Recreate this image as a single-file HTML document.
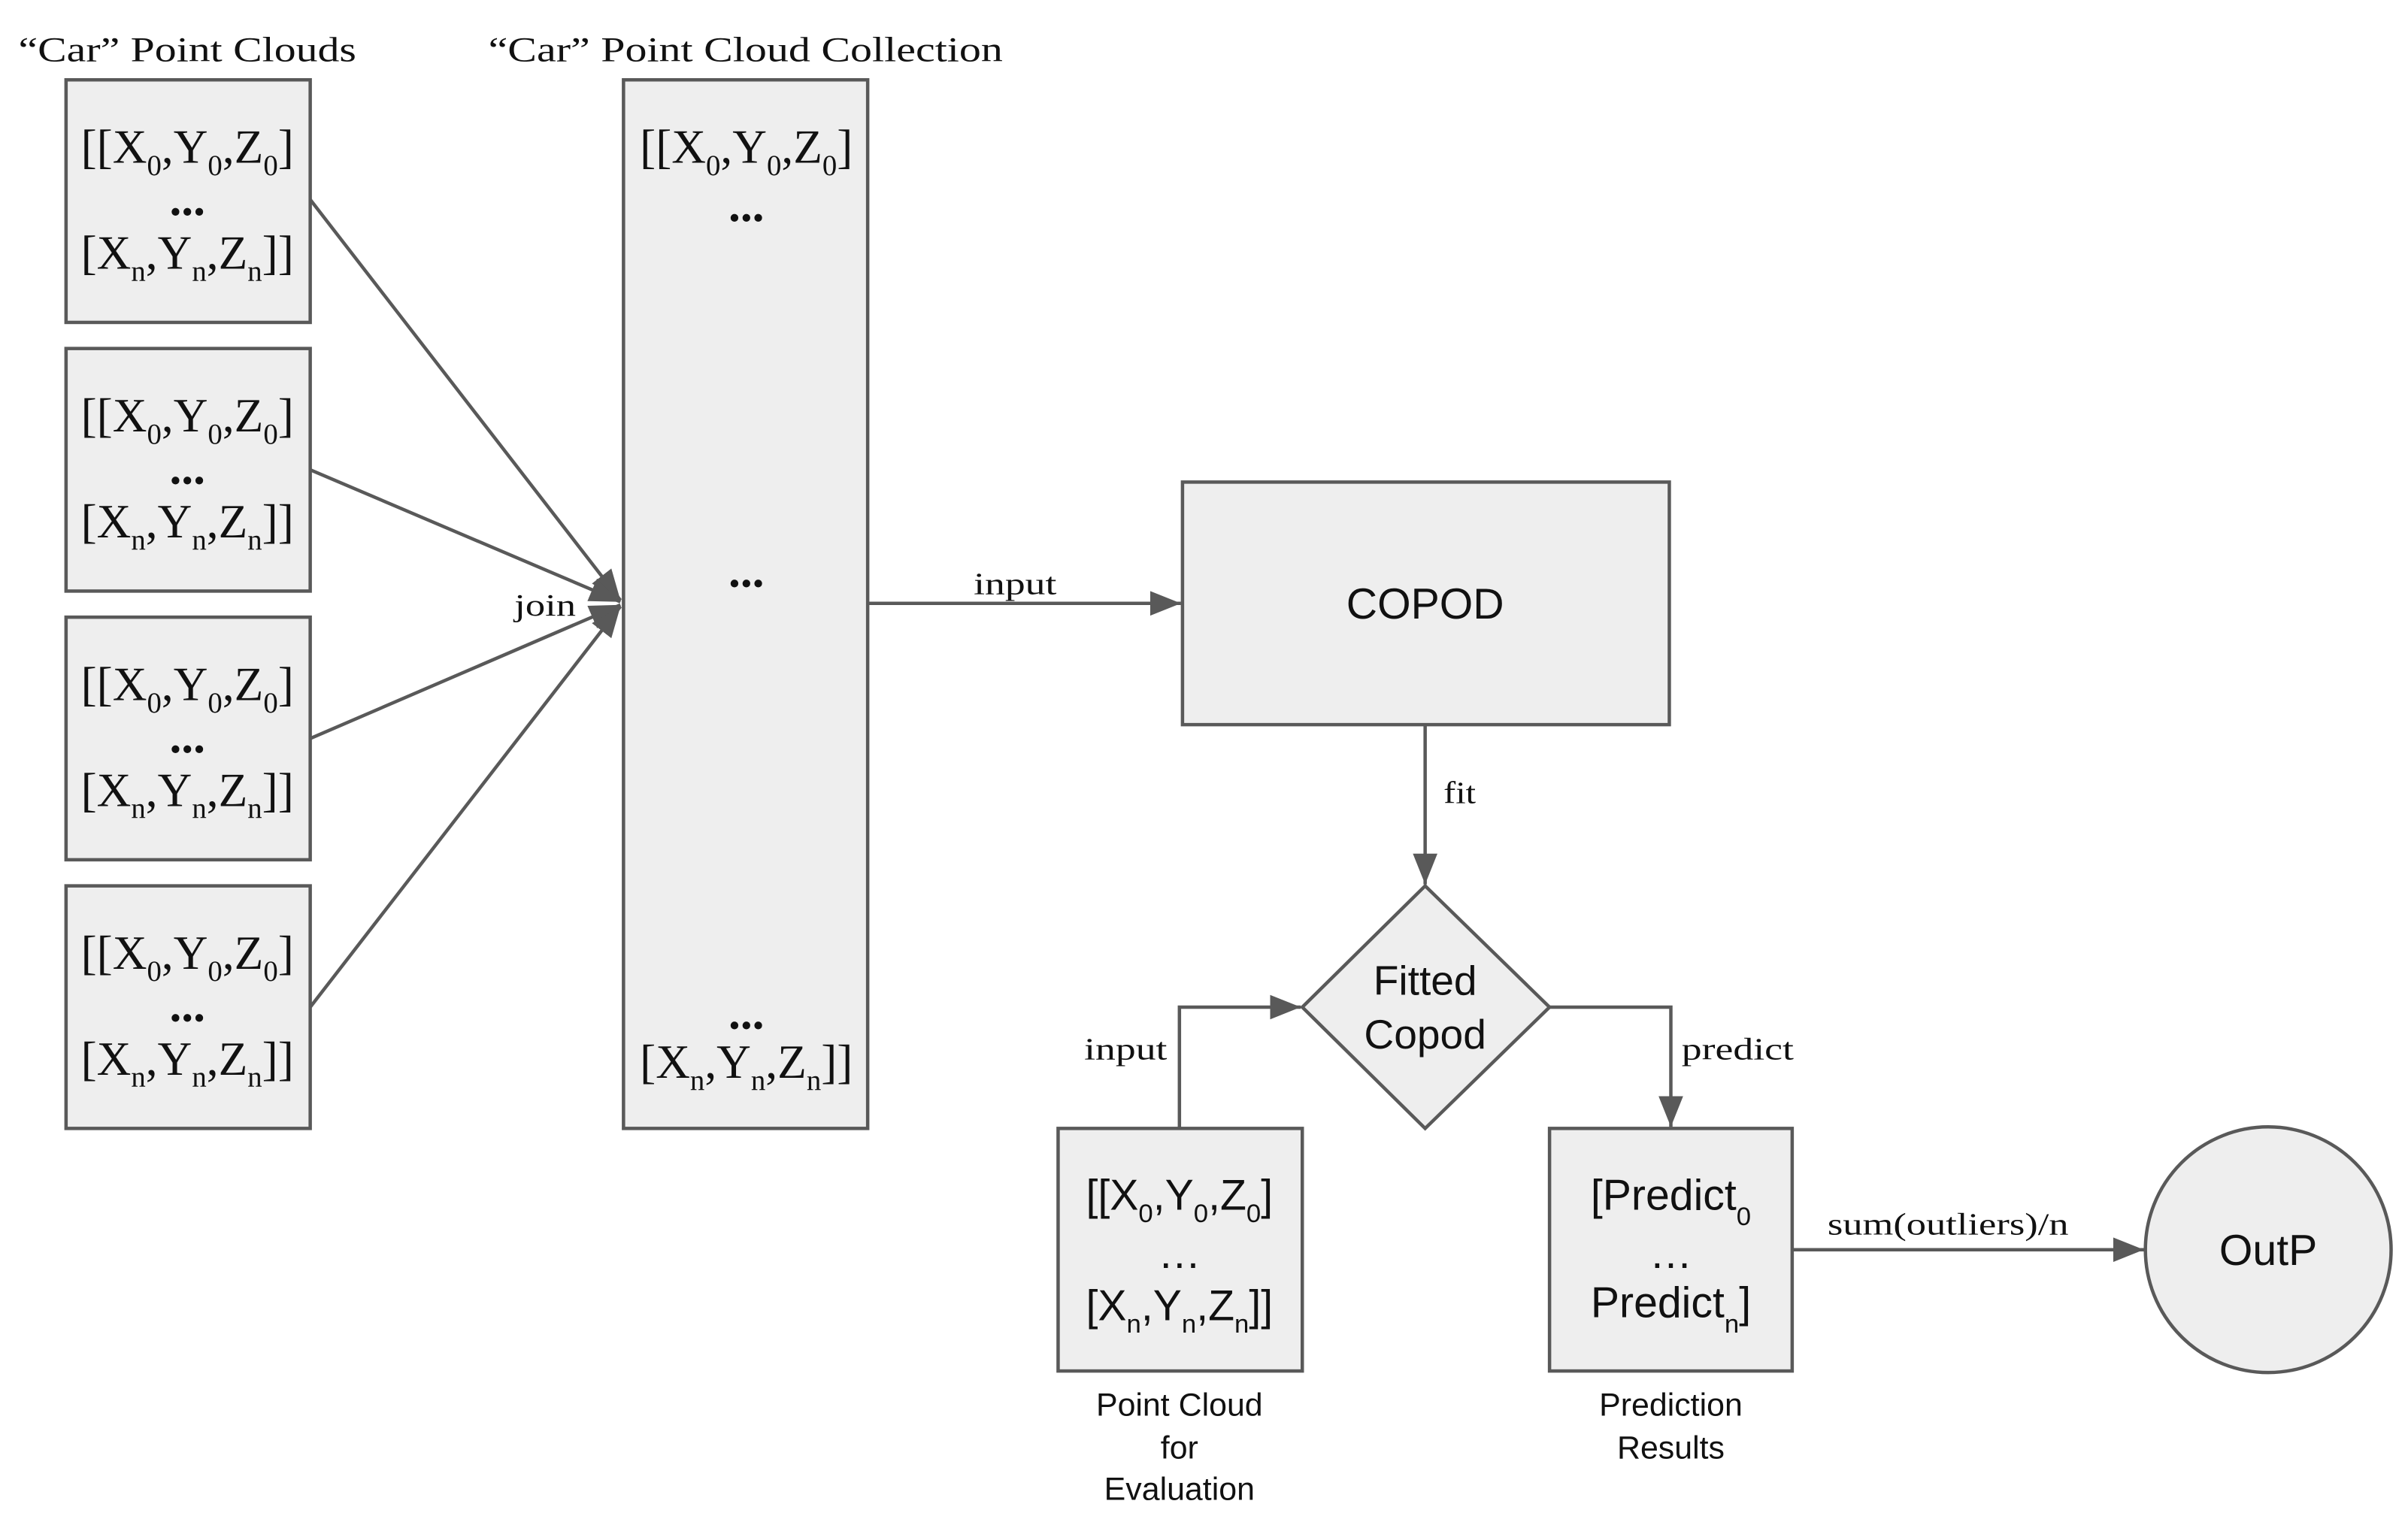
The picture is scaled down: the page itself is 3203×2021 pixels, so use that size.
<!DOCTYPE html>
<html><head><meta charset="utf-8"><style>html,body{margin:0;padding:0;background:#fff}svg{display:block}</style></head><body>
<svg width="3203" height="2021" viewBox="0 0 1568 989.4" preserveAspectRatio="none" xmlns="http://www.w3.org/2000/svg">
<defs>
<marker id="b" markerWidth="20" markerHeight="16" refX="20" refY="8" orient="auto" markerUnits="userSpaceOnUse"><path d="M0,0 L20,8 L0,16 z" fill="#595959"/></marker>
</defs>
<g font-family="Liberation Serif, serif" fill="#111">
<text x="12" y="40" font-size="23" textLength="220" lengthAdjust="spacingAndGlyphs">“Car” Point Clouds</text>
<text x="318" y="40" font-size="23" textLength="335" lengthAdjust="spacingAndGlyphs">“Car” Point Cloud Collection</text>
</g>
<g fill="#eeeeee" stroke="#595959" stroke-width="2.2">
<rect x="43" y="52" width="159" height="158"/>
<rect x="43" y="227" width="159" height="158"/>
<rect x="43" y="402" width="159" height="158"/>
<rect x="43" y="577" width="159" height="158"/>
<rect x="406" y="52" width="159" height="683"/>
<rect x="770" y="314" width="317" height="158"/>
<polygon points="928,577 1009,656 928,735 848,656"/>
<rect x="689" y="735" width="159" height="158"/>
<rect x="1009" y="735" width="158" height="158"/>
<circle cx="1477" cy="814" r="80"/>
</g>
<g stroke="#595959" stroke-width="2.2" fill="none">
<line x1="202" y1="130" x2="404" y2="391" marker-end="url(#b)"/>
<line x1="202" y1="306" x2="404" y2="392" marker-end="url(#b)"/>
<line x1="202" y1="481" x2="404" y2="394" marker-end="url(#b)"/>
<line x1="202" y1="656" x2="404" y2="395" marker-end="url(#b)"/>
<line x1="565" y1="393" x2="769" y2="393" marker-end="url(#b)"/>
<line x1="928" y1="472" x2="928" y2="576" marker-end="url(#b)"/>
<polyline points="768,735 768,656 847,656" marker-end="url(#b)"/>
<polyline points="1009,656 1088,656 1088,734" marker-end="url(#b)"/>
<line x1="1167" y1="814" x2="1396" y2="814" marker-end="url(#b)"/>
</g>
<g font-family="Liberation Serif, serif" fill="#111" font-size="20">
<text x="335" y="401" textLength="40" lengthAdjust="spacingAndGlyphs">join</text>
<text x="634" y="387" textLength="54" lengthAdjust="spacingAndGlyphs">input</text>
<text x="940" y="523" textLength="21" lengthAdjust="spacingAndGlyphs">fit</text>
<text x="706" y="690" textLength="54" lengthAdjust="spacingAndGlyphs">input</text>
<text x="1095" y="690" textLength="73" lengthAdjust="spacingAndGlyphs">predict</text>
<text x="1190" y="804" textLength="157" lengthAdjust="spacingAndGlyphs">sum(outliers)/n</text>
</g>
<g font-family="Liberation Serif, serif" fill="#111" font-size="31" text-anchor="middle">
<g id="pc">
<text x="122" y="106">[[X<tspan font-size="19" dy="8">0</tspan><tspan dy="-8">,Y</tspan><tspan font-size="19" dy="8">0</tspan><tspan dy="-8">,Z</tspan><tspan font-size="19" dy="8">0</tspan><tspan dy="-8">]</tspan></text>
<text x="122" y="140" font-weight="bold">...</text>
<text x="122" y="175">[X<tspan font-size="19" dy="8">n</tspan><tspan dy="-8">,Y</tspan><tspan font-size="19" dy="8">n</tspan><tspan dy="-8">,Z</tspan><tspan font-size="19" dy="8">n</tspan><tspan dy="-8">]]</tspan></text>
</g>
<use href="#pc" y="175"/>
<use href="#pc" y="350"/>
<use href="#pc" y="525"/>
<text x="486" y="106">[[X<tspan font-size="19" dy="8">0</tspan><tspan dy="-8">,Y</tspan><tspan font-size="19" dy="8">0</tspan><tspan dy="-8">,Z</tspan><tspan font-size="19" dy="8">0</tspan><tspan dy="-8">]</tspan></text>
<text x="486" y="144" font-weight="bold">...</text>
<text x="486" y="382" font-weight="bold">...</text>
<text x="486" y="670" font-weight="bold">...</text>
<text x="486" y="702">[X<tspan font-size="19" dy="8">n</tspan><tspan dy="-8">,Y</tspan><tspan font-size="19" dy="8">n</tspan><tspan dy="-8">,Z</tspan><tspan font-size="19" dy="8">n</tspan><tspan dy="-8">]]</tspan></text>
</g>
<g font-family="Liberation Sans, sans-serif" fill="#111" text-anchor="middle">
<text x="928" y="403" font-size="28">COPOD</text>
<text x="928" y="648" font-size="27">Fitted</text>
<text x="928" y="683" font-size="27">Copod</text>
<text x="768" y="788" font-size="28">[[X<tspan font-size="17" dy="8">0</tspan><tspan dy="-8">,Y</tspan><tspan font-size="17" dy="8">0</tspan><tspan dy="-8">,Z</tspan><tspan font-size="17" dy="8">0</tspan><tspan dy="-8">]</tspan></text>
<text x="768" y="826" font-size="28">…</text>
<text x="768" y="860" font-size="28">[X<tspan font-size="17" dy="8">n</tspan><tspan dy="-8">,Y</tspan><tspan font-size="17" dy="8">n</tspan><tspan dy="-8">,Z</tspan><tspan font-size="17" dy="8">n</tspan><tspan dy="-8">]]</tspan></text>
<text x="1088" y="788" font-size="28">[Predict<tspan font-size="17" dy="10">0</tspan></text>
<text x="1088" y="826" font-size="28">…</text>
<text x="1088" y="858" font-size="28">Predict<tspan font-size="17" dy="10">n</tspan><tspan dy="-10">]</tspan></text>
<text x="1477" y="824" font-size="28">OutP</text>
<text x="768" y="922" font-size="21">Point Cloud</text>
<text x="768" y="950" font-size="21">for</text>
<text x="768" y="977" font-size="21">Evaluation</text>
<text x="1088" y="922" font-size="21">Prediction</text>
<text x="1088" y="950" font-size="21">Results</text>
</g>
</svg>
</body></html>
